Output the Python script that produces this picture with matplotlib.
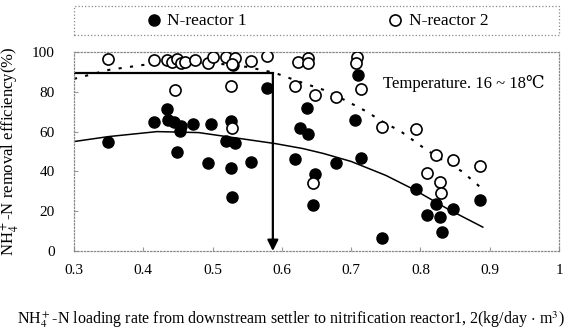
import numpy as np
import matplotlib
matplotlib.use('Agg')
import matplotlib.pyplot as plt
from matplotlib.patches import Rectangle

plt.rcParams['font.family'] = ['Liberation Serif', 'DejaVu Serif']
plt.rcParams['mathtext.fontset'] = 'stix'

# N-reactor 1 (filled)
r1_x = [0.349, 0.416, 0.434, 0.436, 0.445, 0.455, 0.453, 0.472, 0.498, 0.527,
        0.448, 0.494, 0.520, 0.532, 0.526, 0.555, 0.528, 0.578, 0.530, 0.619,
        0.626, 0.638, 0.636, 0.648, 0.645, 0.678, 0.705, 0.710, 0.714, 0.744,
        0.794, 0.823, 0.847, 0.810, 0.828, 0.831, 0.886]
r1_y = [55, 65, 71.5, 66, 65, 63, 60.5, 64, 64, 65.5,
        50, 44, 55.2, 54.2, 41.6, 44.6, 27, 82, 93.5, 46.3,
        62, 59, 71.7, 38.7, 23.1, 44.4, 66, 88.4, 46.6, 6.4,
        31, 23.5, 21.1, 18.1, 16.9, 9.4, 25.6]

# N-reactor 2 (open)
r2_x = [0.349, 0.416, 0.434, 0.441, 0.448, 0.455, 0.460, 0.475, 0.494, 0.501,
        0.520, 0.532, 0.528, 0.556, 0.578, 0.624, 0.638, 0.638, 0.708, 0.707,
        0.446, 0.526, 0.619, 0.648, 0.678, 0.714, 0.744, 0.794, 0.823, 0.847,
        0.886, 0.810, 0.828, 0.830, 0.645, 0.528]
r2_y = [96.5, 96, 96, 95, 96.5, 94.5, 95, 96, 94.5, 97.5,
        97.5, 96.8, 94, 95.5, 98, 95, 96.8, 94.3, 97.6, 94.3,
        81, 83, 83, 78.4, 77.5, 81.2, 62.5, 61.2, 48.2, 45.7,
        42.9, 39, 34.8, 29, 34, 61.7]

# trend lines
fit1_x = [0.30, 0.35, 0.42, 0.48, 0.54, 0.59, 0.63, 0.66, 0.70, 0.75, 0.79, 0.84, 0.89]
fit1_y = [55, 57.5, 60, 59.5, 56.5, 54, 51.5, 49, 45, 38, 31, 21, 12]
fit2_x = [0.30, 0.35, 0.40, 0.45, 0.50, 0.55, 0.59, 0.61, 0.63, 0.66, 0.69, 0.72,
          0.75, 0.77, 0.79, 0.81, 0.84, 0.86, 0.89]
fit2_y = [86.5, 91, 93.5, 94.5, 94.5, 92.5, 89.5, 87, 84.5, 81, 76, 70.5,
          64, 60.5, 55.5, 50.5, 44, 40, 31]

x_opt = 0.587
y_opt = 89.4

fig = plt.figure(figsize=(5.83, 3.34), dpi=100)
ax = fig.add_axes([74/583, 1-251/334, 485/583, 199/334])

ax.plot(fit1_x, fit1_y, color='k', lw=1.1, zorder=2)
ax.plot(fit2_x, fit2_y, color='k', lw=1.5, ls=(0, (1.5, 4)), zorder=2)
ax.plot([0.3, x_opt], [y_opt, y_opt], color='k', lw=1.6, zorder=2)
ax.annotate('', xy=(x_opt, 0), xytext=(x_opt, y_opt),
            arrowprops=dict(arrowstyle='-|>', lw=1.6, color='k',
                            mutation_scale=16, shrinkA=0, shrinkB=0), zorder=2)

ax.scatter(r1_x, r1_y, s=64, c='k', edgecolors='k', zorder=3, label='N-reactor 1')
ax.scatter(r2_x, r2_y, s=64, c='white', edgecolors='k', linewidths=1.2,
           zorder=4, label='N-reactor 2')

ax.set_xlim(0.3, 1.0)
ax.set_ylim(0, 100)
ax.set_xticks([0.3, 0.4, 0.5, 0.6, 0.7, 0.8, 0.9, 1.0])
ax.set_xticklabels(['0.3', '0.4', '0.5', '0.6', '0.7', '0.8', '0.9', '1'])
ax.set_yticks([0, 20, 40, 60, 80, 100])
ax.tick_params(direction='in', length=3, color='#999999', labelsize=11, pad=9)
ax.tick_params(axis='y', pad=14)
for s in ax.spines.values():
    s.set_linestyle(':')
    s.set_color('#888888')
    s.set_linewidth(0.9)

ax.text(0.746, 84, 'Temperature. 16 ~ 18\u2103', fontsize=12, va='center')

ax.set_ylabel(r'NH$_4^+$-N removal efficiency(%)', fontsize=12)
ax.yaxis.set_label_coords(-0.107, 0.5)
ax.set_xlabel(r'NH$_4^+$-N loading rate from downstream settler to nitrification reactor1, 2(kg/day $\cdot$ m$^3$)',
              fontsize=11.5)
ax.xaxis.set_label_coords(0.448, -0.29)

fig.patches.append(Rectangle((74/583, 1-35/334), 485/583, 29/334, transform=fig.transFigure,
                             fill=False, ls=':', ec='#888888', lw=0.9))
fig.legend(loc='center', bbox_to_anchor=(316.5/583, 1-20.5/334), ncol=2, frameon=False,
           fontsize=12.5, columnspacing=8, handletextpad=0.3, handlelength=1,
           borderaxespad=0, scatterpoints=1)

fig.savefig('out.png', dpi=100)
